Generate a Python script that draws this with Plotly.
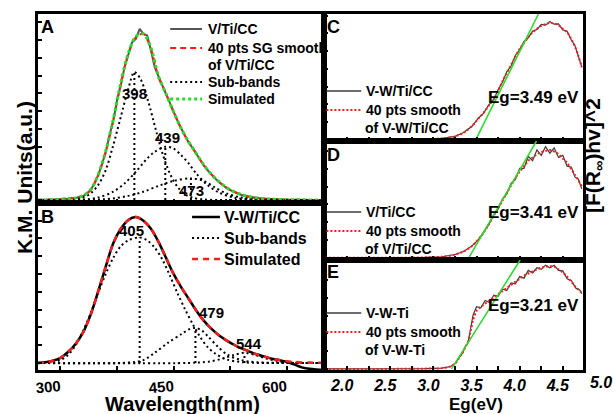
import plotly.graph_objects as go

W, H = 613, 414
FONT = "Liberation Sans, Arial, Helvetica, sans-serif"

# ---------------- Panel A : V/Ti/CC, K.M. units vs wavelength (nm) ----------------
a_wl_raw = list(range(270, 651, 5))
a_raw = [0.0, 0.003, 0.0, 0.004, 0.001, 0.006, 0.003, 0.009, 0.005, 0.012,
         0.01, 0.02, 0.022, 0.04, 0.058, 0.1, 0.148, 0.215, 0.287, 0.39,
         0.475, 0.6, 0.69, 0.8, 0.875, 0.95, 0.97, 1.03, 1.0, 0.99,
         0.9, 0.8, 0.745, 0.69, 0.645, 0.585, 0.535, 0.48, 0.432, 0.39,
         0.345, 0.315, 0.277, 0.245, 0.208, 0.18, 0.152, 0.13, 0.108, 0.09,
         0.073, 0.06, 0.049, 0.04, 0.03, 0.025, 0.019, 0.016, 0.012, 0.01,
         0.007, 0.006, 0.004, 0.004, 0.002, 0.003, 0.001, 0.002, 0.0, 0.001,
         0.0, 0.001, 0.0, 0.0, 0.0, 0.0, 0.0]
a_wl = list(range(270, 651, 10))
a_sg = [0.0, 0.0, 0.002, 0.005, 0.008, 0.013, 0.025, 0.06, 0.15, 0.29,
        0.48, 0.70, 0.88, 0.98, 1.0, 0.91, 0.74, 0.64, 0.53, 0.43,
        0.35, 0.28, 0.21, 0.155, 0.11, 0.075, 0.05, 0.032, 0.02, 0.013,
        0.008, 0.005, 0.003, 0.002, 0.001, 0.001, 0.0, 0.0, 0.0]
a_sim = [0.0, 0.0, 0.001, 0.004, 0.008, 0.013, 0.026, 0.062, 0.152, 0.295,
         0.485, 0.705, 0.885, 0.985, 1.0, 0.915, 0.745, 0.64, 0.53, 0.432,
         0.35, 0.28, 0.212, 0.155, 0.112, 0.076, 0.051, 0.033, 0.021, 0.013,
         0.008, 0.005, 0.003, 0.002, 0.001, 0.001, 0.0, 0.0, 0.0]
a_peaks = [398, 439, 473]
a_peak_heights = [0.77, 0.32, 0.13]
a_band1_wl = [270, 300, 320, 330, 340, 350, 360, 370, 380, 390, 398, 406, 416,
              426, 436, 446, 456, 466, 476, 490, 510, 550, 650]
a_band1 = [0.0, 0.0, 0.005, 0.015, 0.04, 0.09, 0.18, 0.33, 0.5, 0.67, 0.77, 0.73,
           0.6, 0.43, 0.27, 0.15, 0.075, 0.032, 0.013, 0.003, 0.0, 0.0, 0.0]
a_band2_wl = [270, 330, 350, 370, 385, 400, 415, 425, 439, 450, 460, 470, 480,
              495, 510, 530, 560, 650]
a_band2 = [0.0, 0.003, 0.015, 0.05, 0.1, 0.17, 0.25, 0.29, 0.32, 0.31, 0.27,
           0.22, 0.16, 0.09, 0.045, 0.015, 0.002, 0.0]
a_band3_wl = [270, 360, 390, 410, 430, 450, 473, 490, 505, 520, 540, 570, 650]
a_band3 = [0.0, 0.005, 0.025, 0.05, 0.085, 0.115, 0.13, 0.115, 0.075, 0.04,
           0.015, 0.004, 0.0]

# ---------------- Panel B : V-W/Ti/CC ----------------
b_wl = list(range(270, 651, 10))
b_total = [0.0, 0.005, 0.015, 0.035, 0.075, 0.13, 0.21, 0.33, 0.49, 0.66,
           0.82, 0.92, 0.98, 1.0, 0.975, 0.92, 0.83, 0.72, 0.61, 0.52,
           0.44, 0.36, 0.29, 0.235, 0.19, 0.155, 0.125, 0.1, 0.08, 0.06,
           0.045, 0.03, 0.02, 0.008, -0.01, -0.03, -0.04, -0.045, -0.048]
b_sim = [0.0, 0.005, 0.015, 0.035, 0.075, 0.13, 0.21, 0.33, 0.49, 0.66,
         0.82, 0.92, 0.98, 1.0, 0.975, 0.92, 0.83, 0.72, 0.61, 0.52,
         0.44, 0.36, 0.29, 0.235, 0.19, 0.155, 0.125, 0.1, 0.08, 0.06,
         0.045, 0.03, 0.02, 0.012, 0.007, 0.004, 0.003, 0.002, 0.002]
b_peaks = [405, 479, 544]
b_peak_heights = [0.86, 0.24, 0.07]
b_band1_wl = [270, 290, 300, 310, 320, 330, 340, 350, 360, 370, 380, 390, 405,
              415, 425, 435, 445, 455, 465, 475, 485, 495, 505, 520, 540, 570, 650]
b_band1 = [0.0, 0.008, 0.02, 0.055, 0.12, 0.22, 0.34, 0.48, 0.61, 0.72, 0.8,
           0.84, 0.86, 0.84, 0.79, 0.71, 0.6, 0.48, 0.37, 0.27, 0.18, 0.11,
           0.065, 0.025, 0.006, 0.0, 0.0]
b_band2_wl = [270, 390, 410, 425, 443, 461, 470, 479, 488, 496, 509, 522, 540, 560, 650]
b_band2 = [0.0, 0.003, 0.02, 0.07, 0.14, 0.2, 0.23, 0.24, 0.22, 0.18, 0.11,
           0.055, 0.02, 0.005, 0.0]
b_band3_wl = [270, 480, 500, 515, 530, 544, 558, 573, 590, 610, 650]
b_band3 = [0.0, 0.002, 0.012, 0.03, 0.055, 0.07, 0.055, 0.03, 0.012, 0.002, 0.0]

# ---------------- Panels C-E : Tauc plots vs photon energy (eV) ----------------
c_ev = [1.74, 2.2, 2.6, 2.9, 3.1, 3.25, 3.35, 3.45, 3.52, 3.58, 3.64, 3.70, 3.75,
        3.80, 3.85, 3.90, 3.95, 4.00, 4.05, 4.10, 4.15, 4.20, 4.25, 4.30, 4.35,
        4.40, 4.45, 4.50, 4.55, 4.60, 4.64, 4.68, 4.72]
c_raw = [0.0, 0.0, 0.001, 0.004, 0.012, 0.03, 0.062, 0.118, 0.185, 0.226, 0.297,
         0.345, 0.428, 0.492, 0.583, 0.632, 0.722, 0.771, 0.842, 0.873, 0.931,
         0.944, 0.988, 0.982, 1.012, 0.99, 0.993, 0.941, 0.93, 0.852, 0.808,
         0.716, 0.625]
c_smooth = [0.0, 0.0, 0.001, 0.004, 0.012, 0.03, 0.06, 0.12, 0.18, 0.23, 0.29,
            0.35, 0.42, 0.50, 0.57, 0.64, 0.71, 0.78, 0.83, 0.88, 0.92, 0.95,
            0.975, 0.99, 1.0, 0.995, 0.98, 0.95, 0.92, 0.86, 0.80, 0.72, 0.62]

d_ev = c_ev
d_raw = [0.0, 0.0, 0.001, 0.004, 0.01, 0.031, 0.058, 0.113, 0.166, 0.236, 0.305,
         0.398, 0.452, 0.545, 0.592, 0.69, 0.725, 0.83, 0.83, 0.94, 0.9, 1.0,
         0.95, 1.03, 0.97, 1.02, 0.93, 0.95, 0.85, 0.84, 0.75, 0.73, 0.64]
d_smooth = [0.0, 0.0, 0.001, 0.004, 0.01, 0.03, 0.06, 0.11, 0.17, 0.23, 0.31,
            0.39, 0.46, 0.53, 0.6, 0.67, 0.74, 0.80, 0.85, 0.9, 0.93, 0.96,
            0.98, 0.99, 1.0, 0.985, 0.96, 0.92, 0.88, 0.82, 0.77, 0.72, 0.66]

e_ev = [1.74, 2.2, 2.6, 2.9, 3.1, 3.2, 3.26, 3.30, 3.34, 3.37, 3.40, 3.43, 3.46,
        3.50, 3.55, 3.60, 3.65, 3.70, 3.75, 3.80, 3.85, 3.90, 3.95, 4.00, 4.05,
        4.10, 4.15, 4.20, 4.25, 4.30, 4.35, 4.40, 4.45, 4.50, 4.55, 4.60, 4.65,
        4.70, 4.72]
e_raw = [0.0, 0.0, 0.001, 0.003, 0.008, 0.024, 0.058, 0.115, 0.155, 0.22, 0.25,
         0.38, 0.52, 0.6, 0.59, 0.66, 0.64, 0.71, 0.7, 0.77, 0.755, 0.83, 0.82,
         0.89, 0.875, 0.95, 0.925, 0.975, 0.96, 1.0, 0.975, 1.0, 0.95, 0.945,
         0.87, 0.85, 0.78, 0.76, 0.725]
e_smooth = [0.0, 0.0, 0.001, 0.003, 0.008, 0.025, 0.06, 0.11, 0.16, 0.21, 0.26,
            0.36, 0.47, 0.56, 0.6, 0.63, 0.66, 0.69, 0.72, 0.75, 0.78, 0.81,
            0.84, 0.87, 0.9, 0.92, 0.94, 0.96, 0.975, 0.985, 0.99, 0.985, 0.96,
            0.93, 0.89, 0.84, 0.79, 0.75, 0.73]

# band-gap tangents: x-intercept (eV) and slope
band_gaps = [3.49, 3.41, 3.21]
tangent_slopes = [1.48, 1.38, 1.32]

wl_ticks = [300, 450, 600]
wl_minor = [375, 525]
ev_ticks = [2.0, 2.5, 3.0, 3.5, 4.0, 4.5]
ev_minor = [2.25, 2.75, 3.25, 3.75, 4.25]

# ------------------------------------------------------------------
def fx(px):
    return px / W


def fy(py):
    return 1 - py / H


GRAY = "#555555"
RED = "#ff1a1a"
GREEN = "#22e022"
SUB = "2px,3px"

fig = go.Figure()


def curve(x, y, ax, color, width, dash="solid", shape="spline"):
    fig.add_trace(go.Scatter(
        x=x, y=y, xaxis="x" + ax, yaxis="y" + ax, mode="lines",
        line=dict(color=color, width=width, dash=dash, shape=shape, smoothing=0.9),
        showlegend=False, hoverinfo="skip"))


# Panel A
curve(a_wl_raw, a_raw, "", GRAY, 2, shape="linear")
curve(a_wl, a_sg, "", RED, 2, dash="6px,4px")
for xs, ys in [(a_band1_wl, a_band1), (a_band2_wl, a_band2), (a_band3_wl, a_band3)]:
    curve(xs, ys, "", "black", 2, dash=SUB)
for p, h in zip(a_peaks, a_peak_heights):
    curve([p, p], [0, h], "", "black", 2, dash=SUB, shape="linear")
curve(a_wl, a_sim, "", GREEN, 3, dash="3px,3px")

# Panel B
curve(b_wl, b_total, "2", "black", 2.5)
for xs, ys in [(b_band1_wl, b_band1), (b_band2_wl, b_band2), (b_band3_wl, b_band3)]:
    curve(xs, ys, "2", "black", 2, dash=SUB)
for p, h in zip(b_peaks, b_peak_heights):
    curve([p, p], [0, h], "2", "black", 2, dash=SUB, shape="linear")
curve(b_wl, b_sim, "2", RED, 2.5, dash="6px,5px")

# Panels C, D, E
tauc = [("3", c_ev, c_raw, c_smooth, 1.077),
        ("4", d_ev, d_raw, d_smooth, 1.083),
        ("5", e_ev, e_raw, e_smooth, 1.05)]
for (ax, xs, raw, sm, ytop), eg, k in zip(tauc, band_gaps, tangent_slopes):
    curve(xs, raw, ax, "#3c3c3c", 1.2, shape="linear")
    curve(xs, sm, ax, RED, 2, dash="2px,2px")
    curve([eg, eg + ytop / k], [0, ytop], ax, GREEN, 1.5, shape="linear")

# ------------------------------------------------------------------
common = dict(showline=True, linewidth=3, linecolor="black", mirror=True,
              ticks="inside", ticklen=4, tickwidth=2, tickcolor="black",
              showgrid=False, zeroline=False)
minor_style = dict(ticks="inside", ticklen=4, tickwidth=2, tickcolor="black",
                   showgrid=False)
xl = [fx(35), fx(323)]
xr = [fx(323), fx(583)]
wl_axis = dict(range=[270, 650], tickvals=wl_ticks,
               minor=dict(tickvals=wl_minor, **minor_style), **common)
ev_axis = dict(range=[1.736, 4.736], tickvals=ev_ticks,
               minor=dict(tickvals=ev_minor, **minor_style), **common)

layout = dict(
    width=W, height=H, margin=dict(l=0, r=0, t=0, b=0),
    paper_bgcolor="white", plot_bgcolor="white", showlegend=False,
    xaxis=dict(domain=xl, anchor="y", showticklabels=False, **wl_axis),
    yaxis=dict(domain=[fy(203), fy(14)], range=[-0.018, 1.12], anchor="x",
               tick0=0, dtick=0.107, showticklabels=False, **common),
    xaxis2=dict(domain=xl, anchor="y2", tickangle=-5,
                tickfont=dict(family=FONT, size=15, color="black", weight="bold"),
                **wl_axis),
    yaxis2=dict(domain=[fy(370), fy(203)], range=[-0.048, 1.096], anchor="x2",
                tick0=0, dtick=0.122, showticklabels=False, **common),
    xaxis3=dict(domain=xr, anchor="y3", showticklabels=False, **ev_axis),
    yaxis3=dict(domain=[fy(141), fy(14)], range=[-0.01, 1.077], anchor="x3",
                tick0=0, dtick=0.152, showticklabels=False, **common),
    xaxis4=dict(domain=xr, anchor="y4", showticklabels=False, **ev_axis),
    yaxis4=dict(domain=[fy(260), fy(141)], range=[-0.02, 1.083], anchor="x4",
                tick0=0, dtick=0.165, showticklabels=False, **common),
    xaxis5=dict(domain=xr, anchor="y5", tickformat=".1f",
                ticklabelshift=-5, ticklabelstandoff=-1,
                tickfont=dict(family=FONT, size=16, color="black", weight="bold",
                              style="italic"),
                **ev_axis),
    yaxis5=dict(domain=[fy(370), fy(260)], range=[-0.01, 1.05], anchor="x5",
                tick0=0, dtick=0.171, showticklabels=False, **common),
)
fig.update_layout(**layout)

annotations = []
shapes = []


def text(s, x, y, size, xanchor="center", angle=0, style="normal"):
    annotations.append(dict(
        text=s, x=fx(x), y=fy(y), xref="paper", yref="paper", showarrow=False,
        xanchor=xanchor, yanchor="middle", textangle=angle,
        font=dict(family=FONT, size=size, color="black", weight="bold", style=style)))


def sample(x0, x1, y, color, width, dash="solid"):
    shapes.append(dict(type="line", xref="paper", yref="paper",
                       x0=fx(x0), x1=fx(x1), y0=fy(y), y1=fy(y),
                       line=dict(color=color, width=width, dash=dash)))


# axis titles
text("Wavelength(nm)", 180, 404, 20)
text("Eg(eV)", 475, 404, 17)
text("K.M. Units(a.u.)", 21, 177, 21, angle=-90)
text("[F(R<sub>∞</sub>)hv]^2", 594, 156, 21, angle=-90)
text("5.0", 601, 382, 16, style="italic")

# panel letters
for s, x, y in [("A", 45, 27), ("B", 45, 217), ("C", 332, 27), ("D", 332, 155), ("E", 332, 272)]:
    text(s, x, y, 18)

# legend, panel A
sample(168, 200, 29, GRAY, 2)
sample(168, 200, 48, RED, 2, "6px,4px")
sample(168, 200, 82, "black", 2, SUB)
sample(168, 200, 99, GREEN, 3, "3px,3px")
text("V/Ti/CC", 204, 29, 14, "left")
text("40 pts SG smooth", 204, 48, 14, "left")
text("of V/Ti/CC", 204, 65, 14, "left")
text("Sub-bands", 204, 82, 14, "left")
text("Simulated", 204, 99, 14, "left")

# legend, panel B
sample(190, 218, 217, "black", 2.5)
sample(190, 218, 238, "black", 2, SUB)
sample(190, 218, 259, RED, 2.5, "6px,5px")
text("V-W/Ti/CC", 220, 217, 16, "left")
text("Sub-bands", 220, 238, 16, "left")
text("Simulated", 220, 259, 16, "left")

# legends and band-gap labels, panels C-E
tauc_labels = [("V-W/Ti/CC", "of V-W/Ti/CC", 91, 97),
               ("V/Ti/CC", "of V/Ti/CC", 212, 212),
               ("V-W-Ti", "of V-W-Ti", 313, 305)]
for (name, second, y0, yeg), eg in zip(tauc_labels, band_gaps):
    sample(325, 360, y0, "#3c3c3c", 1.5)
    sample(325, 360, y0 + 19, RED, 2, "2px,2px")
    text(name, 363, y0, 14, "left")
    text("40 pts smooth", 363, y0 + 19, 14, "left")
    text(second, 362, y0 + 37, 14, "left")
    text(f"Eg={eg:.2f} eV", 533, yeg, 17)

# sub-band peak labels (offsets in px from each peak top)
a_label_shift = [(0, -21), (2, 9), (1, -12)]
b_label_shift = [(-8, 7), (16, 15), (5, 9)]
for ax, peaks, heights, shifts in [("", a_peaks, a_peak_heights, a_label_shift),
                                   ("2", b_peaks, b_peak_heights, b_label_shift)]:
    for p, h, (dx, dy) in zip(peaks, heights, shifts):
        annotations.append(dict(
            text=str(p), x=p, y=h, xref="x" + ax, yref="y" + ax, showarrow=False,
            xshift=dx, yshift=dy,
            font=dict(family=FONT, size=15, color="black", weight="bold")))

fig.update_layout(annotations=annotations, shapes=shapes)
fig.write_html("out.html", config={"displayModeBar": False})
